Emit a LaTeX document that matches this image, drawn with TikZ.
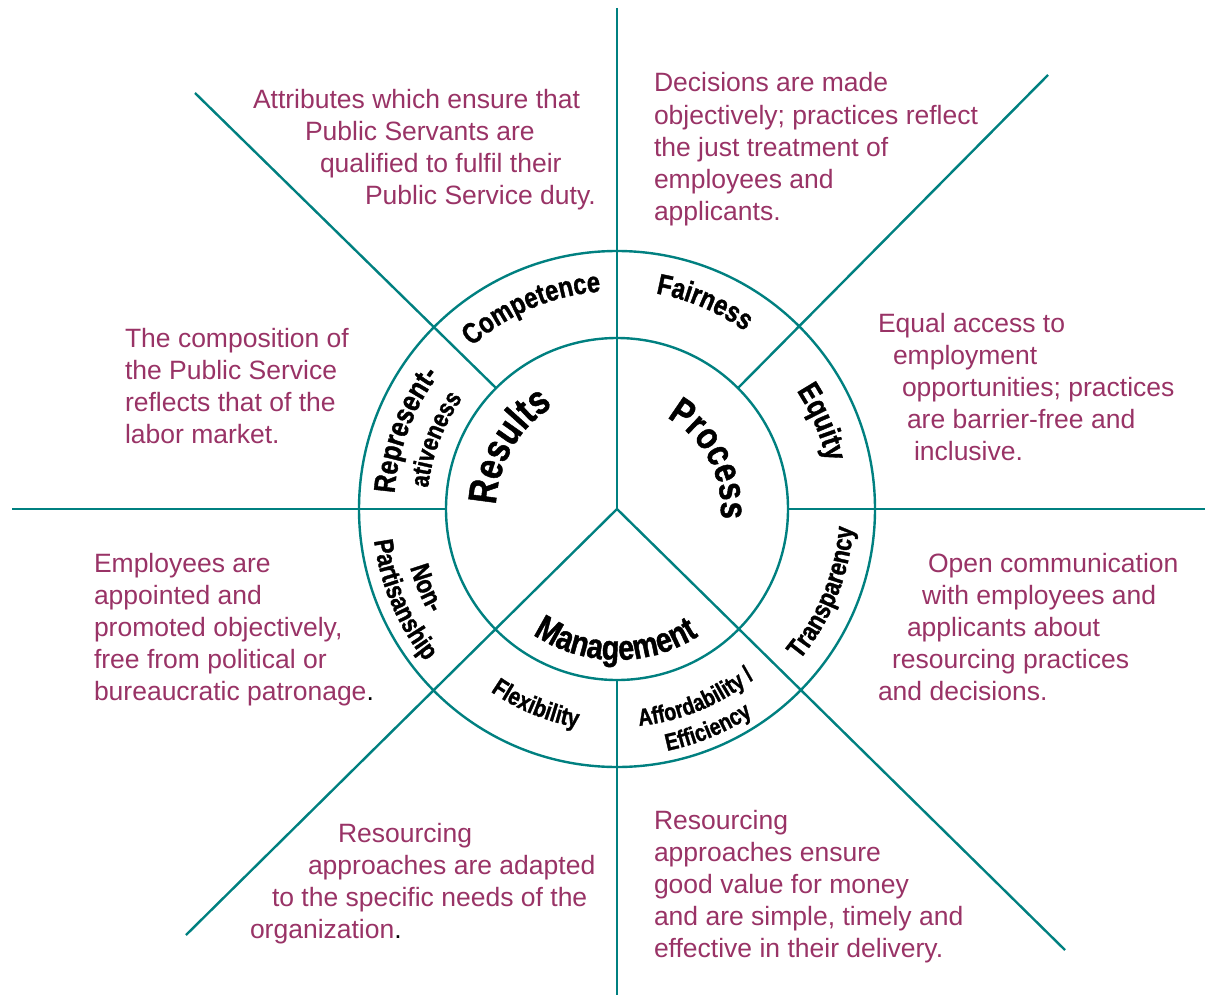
\documentclass[tikz,border=0pt]{standalone}
\usepackage{fontspec}
\setmainfont{Liberation Sans}
\newfontfamily\ringcond[FakeStretch=0.82,FakeBold=1.2]{Liberation Sans}
\usetikzlibrary{calc,decorations.text}
\definecolor{wheelteal}{RGB}{0,128,128}
\definecolor{notepurple}{RGB}{153,51,102}

% text set clockwise along an arc round (c): tops face outward
\newcommand{\cwlabel}[4]{%
  \path[decorate, decoration={text along path, text align=center, text={|#3|#4}}]
    ($(c)+({#1+50}:#2pt)$) arc[start angle={#1+50}, end angle={#1-50}, radius=#2pt];}
% text set counter-clockwise along an arc round (c): tops face the centre
\newcommand{\ccwlabel}[4]{%
  \path[decorate, decoration={text along path, text align=center, text={|#3|#4}}]
    ($(c)+({#1-50}:#2pt)$) arc[start angle={#1-50}, end angle={#1+50}, radius=#2pt];}
\newcommand{\rc}[1]{\ringcond\bfseries\fontsize{#1}{#1}\selectfont}

\begin{document}
\begin{tikzpicture}[x=1pt,y=1pt,
  spoke/.style={draw=wheelteal, line width=2.4pt},
  ring/.style={circle, draw=wheelteal, line width=2.4pt, inner sep=0pt, outer sep=0pt},
  note/.style={anchor=base west, inner sep=0pt, outer sep=0pt, text=notepurple,
    font=\fontsize{26.5}{32}\selectfont},
]
\fill[white] (0,0) rectangle (1205,-998);
\useasboundingbox (0,0) rectangle (1205,-998);

% wheel
\coordinate (c) at (617,-509);
\node[ring, minimum size=516pt] (outer) at (c) {};
\node[ring, minimum size=342pt] (inner) at (c) {};

% spoke ends
\coordinate (nTop)  at (617,-8);
\coordinate (sBot)  at (617,-995);
\coordinate (wEnd)  at (12,-509);
\coordinate (eEnd)  at (1205,-509);
\coordinate (nwEnd) at (195,-93);
\coordinate (neEnd) at (1048,-75);
\coordinate (seEnd) at (1065,-950);
\coordinate (swEnd) at (186,-935);

\draw[spoke] (nTop) -- (c);
\draw[spoke] (swEnd) -- (c) -- (seEnd);
\draw[spoke] (inner.south) -- (sBot);
\draw[spoke] (wEnd) -- (inner.west);
\draw[spoke] (inner.east) -- (eEnd);
\draw[spoke] (nwEnd) -- (inner.135);
\draw[spoke] (neEnd) -- (inner.45);

% ring labels
\cwlabel{113}{218}{\rc{29}}{Competence}
\cwlabel{67}{219}{\rc{29}}{Fairness}
\cwlabel{23}{215}{\rc{31}}{Equity}
\ccwlabel{-22}{237}{\rc{27}}{Transparency}
\ccwlabel{-67.5}{218}{\rc{24}}{Affordability /}
\ccwlabel{-67.5}{247}{\rc{24}}{Efficiency}
\ccwlabel{-112.5}{222}{\rc{25}}{Flexibility}
\ccwlabel{202.5}{215}{\rc{27}}{Non-}
\ccwlabel{203}{245}{\rc{27}}{Partisanship}
\cwlabel{159.5}{223}{\rc{30}}{Represent-}
\cwlabel{159}{190}{\rc{26}}{ativeness}

% inner labels
\cwlabel{150}{121}{\rc{40}}{Results}
\cwlabel{28}{104}{\rc{38}}{Process}
\ccwlabel{-90.5}{151}{\rc{35}}{Management}

% descriptions
\node[note] (a1) at (253,-108) {Attributes which ensure that};
\node[note] (a2) at (305,-140) {Public Servants are};
\node[note] (a3) at (320,-172) {qualified to fulfil their};
\node[note] (a4) at (365,-204) {Public Service duty.};

\node[note] (b1) at (654,-92)  {Decisions are made};
\node[note] (b2) at (654,-124) {objectively; practices reflect};
\node[note] (b3) at (654,-156) {the just treatment of};
\node[note] (b4) at (654,-188) {employees and};
\node[note] (b5) at (654,-220) {applicants.};

\node[note] (r1) at (125,-347) {The composition of};
\node[note] (r2) at (125,-379) {the Public Service};
\node[note] (r3) at (125,-411) {reflects that of the};
\node[note] (r4) at (125,-443) {labor market.};

\node[note] (e1) at (878,-332) {Equal access to};
\node[note] (e2) at (893,-364) {employment};
\node[note] (e3) at (902,-396) {opportunities; practices};
\node[note] (e4) at (907,-428) {are barrier-free and};
\node[note] (e5) at (914,-460) {inclusive.};

\node[note] (n1) at (94,-572) {Employees are};
\node[note] (n2) at (94,-604) {appointed and};
\node[note] (n3) at (94,-636) {promoted objectively,};
\node[note] (n4) at (94,-668) {free from political or};
\node[note] (n5) at (94,-700) {bureaucratic patronage{\color{black}.}};

\node[note] (t1) at (928,-572) {Open communication};
\node[note] (t2) at (922,-604) {with employees and};
\node[note] (t3) at (907,-636) {applicants about};
\node[note] (t4) at (892,-668) {resourcing practices};
\node[note] (t5) at (878,-700) {and decisions.};

\node[note] (f1) at (338,-842) {Resourcing};
\node[note] (f2) at (308,-874) {approaches are adapted};
\node[note] (f3) at (272,-906) {to the specific needs of the};
\node[note] (f4) at (250,-938) {organization{\color{black}.}};

\node[note] (y1) at (654,-829) {Resourcing};
\node[note] (y2) at (654,-861) {approaches ensure};
\node[note] (y3) at (654,-893) {good value for money};
\node[note] (y4) at (654,-925) {and are simple, timely and};
\node[note] (y5) at (654,-957) {effective in their delivery.};
\end{tikzpicture}
\end{document}
